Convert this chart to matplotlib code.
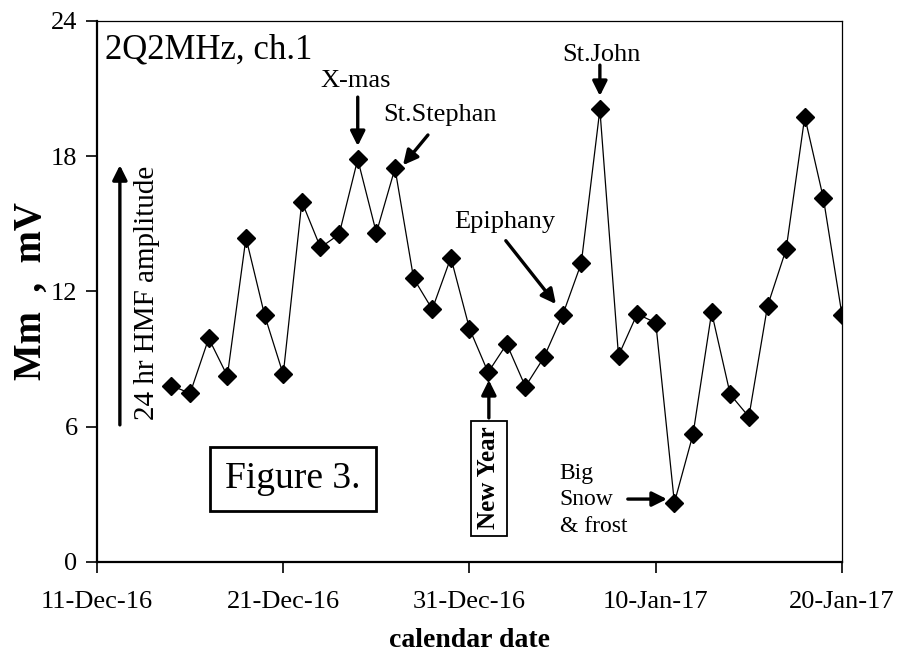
import datetime as dt
import matplotlib
matplotlib.use("Agg")
import matplotlib.pyplot as plt
import matplotlib.dates as mdates

plt.rcParams['font.family'] = ['Liberation Serif', 'DejaVu Serif']

# daily 24 hr HMF amplitude, 15-Dec-16 .. 20-Jan-17
start = dt.date(2016, 12, 15)
amplitude = [7.82, 7.48, 9.92, 8.25, 14.38, 10.95, 8.32, 15.98, 13.95, 14.53,
             17.86, 14.60, 17.46, 12.58, 11.21, 13.50, 10.35, 8.41, 9.67, 7.78,
             9.08, 10.95, 13.25, 20.07, 9.15, 11.00, 10.61, 2.63, 5.66, 11.07,
             7.43, 6.44, 11.35, 13.87, 19.75, 16.13, 10.95]
dates = [start + dt.timedelta(days=i) for i in range(len(amplitude))]

tick_dates = [dt.date(2016, 12, 11), dt.date(2016, 12, 21), dt.date(2016, 12, 31),
              dt.date(2017, 1, 10), dt.date(2017, 1, 20)]
y_ticks = [0, 6, 12, 18, 24]


def d(y, m, day):
    # fractional date -> matplotlib date number
    return mdates.date2num(dt.datetime(y, m, 1)) + day - 1


fig = plt.figure(figsize=(9.02, 6.53), dpi=100)
ax = fig.add_axes([0.1075, 0.1394, 0.826, 0.8286])

ax.plot(dates, amplitude, color='black', lw=0.9, marker='D', markersize=9.5,
        markerfacecolor='black', markeredgecolor='black')

ax.set_xlim(tick_dates[0], tick_dates[-1])
ax.set_ylim(0, 24)
ax.set_xticks(tick_dates)
ax.set_yticks(y_ticks)
ax.xaxis.set_major_formatter(mdates.DateFormatter('%d-%b-%y'))
ax.tick_params(axis='both', labelsize=19, direction='out', length=8, width=1.2)
ax.tick_params(axis='x', pad=13)
ax.tick_params(axis='y', pad=6)

for side in ['left', 'bottom']:
    ax.spines[side].set_linewidth(1.6)
for side in ['top', 'right']:
    ax.spines[side].set_linewidth(0.9)

ax.set_ylabel('Mm  ,  mV', fontsize=28, fontweight='bold')
ax.yaxis.set_label_coords(-0.063, 0.5)
ax.set_xlabel('calendar date', fontsize=20, fontweight='bold')
ax.xaxis.set_label_coords(0.5, -0.122)

arrow = dict(arrowstyle='-|>', lw=2.4, color='black', mutation_scale=22,
             shrinkA=0, shrinkB=0)

ax.text(d(2016, 12, 11.43), 22.7, '2Q2MHz, ch.1', fontsize=25, va='center', ha='left')

# X-mas
xmas = dt.date(2016, 12, 25)
ax.text(mdates.date2num(xmas) - 0.1, 21.33, 'X-mas', fontsize=19, ha='center', va='center')
ax.annotate('', xy=(xmas, 18.45), xytext=(xmas, 20.62), arrowprops=arrow)

# St.Stephan
ax.text(d(2016, 12, 26.35), 19.82, 'St.Stephan', fontsize=19, ha='left', va='center')
ax.annotate('', xy=(d(2016, 12, 27.43), 17.6), xytext=(d(2016, 12, 28.77), 18.94),
            arrowprops=arrow)

# St.John
john = dt.date(2017, 1, 7)
ax.text(mdates.date2num(john) + 0.1, 22.48, 'St.John', fontsize=19, ha='center', va='center')
ax.annotate('', xy=(john, 20.67), xytext=(john, 22.04), arrowprops=arrow)

# Epiphany
ax.text(d(2016, 12, 30.2), 15.1, 'Epiphany', fontsize=19, ha='left', va='center')
ax.annotate('', xy=(d(2017, 1, 4.64), 11.44), xytext=(d(2017, 1, 1.95), 14.25),
            arrowprops=arrow)

# New Year
ax.text(d(2017, 1, 1.04), 3.72, 'New Year', fontsize=18, fontweight='bold',
        rotation=90, ha='center', va='center',
        bbox=dict(boxstyle='square,pad=0.25', fc='white', ec='black', lw=1.3))
ax.annotate('', xy=(d(2017, 1, 1.04), 8.07), xytext=(d(2017, 1, 1.04), 6.39),
            arrowprops=arrow)

# Big Snow
ax.text(d(2017, 1, 4.85), 2.75, 'Big\nSnow\n& frost', fontsize=17, ha='left',
        va='center', linespacing=1.35)
ax.annotate('', xy=(d(2017, 1, 10.6), 2.79), xytext=(d(2017, 1, 8.5), 2.79),
            arrowprops=arrow)

# vertical amplitude arrow
ax.annotate('', xy=(d(2016, 12, 12.23), 17.6), xytext=(d(2016, 12, 12.23), 6.08),
            arrowprops=arrow)
ax.text(d(2016, 12, 13.68), 11.95, '24 hr HMF amplitude', fontsize=21, rotation=90,
        ha='center', va='center')

# Figure label
ax.text(d(2016, 12, 21.52), 3.68, 'Figure 3.', fontsize=27, ha='center', va='center',
        bbox=dict(boxstyle='square,pad=0.4', fc='white', ec='black', lw=2))

fig.savefig('out.png', dpi=100)
